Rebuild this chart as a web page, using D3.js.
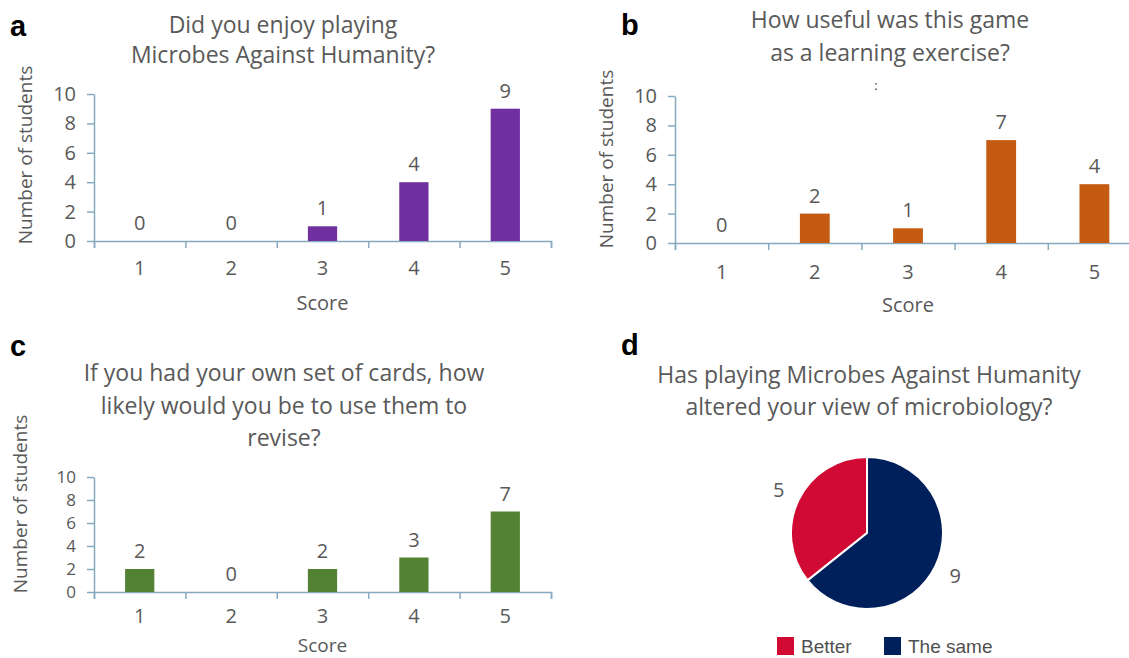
<!DOCTYPE html>
<html>
<head>
<meta charset="utf-8">
<script src="https://cdn.jsdelivr.net/npm/d3@7"></script>
<style>
  body { margin: 0; background: #fff; }
  svg { display: block; }
</style>
</head>
<body>
<div id="place"></div>
<script>
(function() {

	// survey answers
	const scores = ["1", "2", "3", "4", "5"];
	const enjoyCounts = [0, 0, 1, 4, 9];
	const usefulCounts = [0, 2, 1, 7, 4];
	const reviseCounts = [2, 0, 2, 3, 7];
	const yTicks = [0, 2, 4, 6, 8, 10];
	const viewLabels = ["Better", "The same"];
	const viewCounts = [5, 9];

	const width = 1129, height = 658;
	const grey = "#595959",
		  axisColor = "#86a9bf",
		  font = "'Open Sans', Lato, sans-serif";

	let svg = d3.select("#place").append("svg")
		.attr('width', width)
		.attr('height', height)

	function panelLetter(txt, x, y) {
		svg.append('text')
			.attr('x', x).attr('y', y)
			.style('font-family', "'Liberation Sans', Arial, sans-serif")
			.style('font-weight', 'bold')
			.style('font-size', '29px')
			.style('fill', '#000')
			.text(txt)
	}

	function title(lines, cx, ys) {
		svg.append('g').selectAll('text')
			.data(lines)
		  .enter().append('text')
			.attr('x', cx)
			.attr('y', (d, i) => ys[i])
			.attr('text-anchor', 'middle')
			.style('font-family', font)
			.style('font-size', '23px')
			.style('fill', grey)
			.text(d => d)
	}

	function barChart(p) {
		let g = svg.append('g')

		let x = d3.scaleBand()
			.domain(scores)
			.range([p.x0, p.x1])
			.paddingInner(0.68)
			.paddingOuter(0.34)

		let y = d3.scaleLinear()
			.domain([0, 10])
			.range([p.yBottom, p.yTop])

		// boundary ticks under the axis
		let edges = d3.scaleLinear().domain([0, scores.length]).range([p.x0, p.x1])
		let xEdge = g.append('g')
			.attr('transform', 'translate(0,' + p.yBottom + ')')
			.call(d3.axisBottom(edges).ticks(scores.length).tickSize(7).tickFormat(""))
		xEdge.selectAll('path, line').attr('stroke', axisColor).attr('stroke-width', 1.5)

		let xLab = g.append('g')
			.attr('transform', 'translate(0,' + p.yBottom + ')')
			.call(d3.axisBottom(x).tickSize(0).tickPadding(p.xPad))
		xLab.select('.domain').remove()
		xLab.selectAll('text')
			.style('font-family', font).style('font-size', '20px').style('fill', grey)

		let yAx = g.append('g')
			.attr('transform', 'translate(' + p.x0 + ',0)')
			.call(d3.axisLeft(y).tickValues(yTicks).tickSize(7).tickPadding(11).tickSizeOuter(0))
		yAx.selectAll('path, line').attr('stroke', axisColor).attr('stroke-width', 1.5)
		yAx.selectAll('text')
			.style('font-family', font).style('font-size', p.yTickSize).style('fill', grey)

		g.append('g').selectAll('rect')
			.data(p.values)
		  .enter().append('rect')
			.attr('x', (d, i) => x(scores[i]))
			.attr('y', d => y(d))
			.attr('width', x.bandwidth())
			.attr('height', d => y(0) - y(d))
			.style('fill', p.color)

		g.append('g').selectAll('text')
			.data(p.values)
		  .enter().append('text')
			.attr('x', (d, i) => x(scores[i]) + x.bandwidth() / 2)
			.attr('y', d => y(d) - 11)
			.attr('text-anchor', 'middle')
			.style('font-family', font).style('font-size', '20px').style('fill', grey)
			.text(d => d)

		g.append('text')
			.attr('transform', 'translate(' + p.yLabelX + ',' + p.yLabelY + ') rotate(-90)')
			.attr('text-anchor', 'middle')
			.attr('dy', '0.35em')
			.style('font-family', font).style('font-size', '19px').style('fill', grey)
			.text("Number of students")

		g.append('text')
			.attr('x', (p.x0 + p.x1) / 2)
			.attr('y', p.scoreY)
			.attr('text-anchor', 'middle')
			.style('font-family', font).style('font-size', p.scoreSize).style('fill', grey)
			.text("Score")
	}

	// a
	panelLetter("a", 10, 36)
	title(["Did you enjoy playing", "Microbes Against Humanity?"], 283, [33, 63])
	barChart({ x0: 94, x1: 551, yTop: 94, yBottom: 241, values: enjoyCounts, color: "#7030a0",
		xPad: 20, yTickSize: '20px', yLabelX: 25, yLabelY: 155, scoreY: 310, scoreSize: '20px' })

	// b
	panelLetter("b", 621, 35)
	title(["How useful was this game", "as a learning exercise?"], 890, [28, 61])
	svg.append('text')
		.attr('x', 876).attr('y', 90)
		.attr('text-anchor', 'middle')
		.style('font-family', font).style('font-size', '13px').style('fill', '#444')
		.text(":")
	barChart({ x0: 675, x1: 1141, yTop: 96, yBottom: 243, values: usefulCounts, color: "#c55a11",
		xPad: 22, yTickSize: '20px', yLabelX: 606, yLabelY: 159, scoreY: 312, scoreSize: '20px' })

	// c
	panelLetter("c", 10, 356)
	title(["If you had your own set of cards, how", "likely would you be to use them to", "revise?"], 284, [381, 414, 446])
	barChart({ x0: 94, x1: 551, yTop: 477, yBottom: 592, values: reviseCounts, color: "#548235",
		xPad: 17, yTickSize: '17px', yLabelX: 20, yLabelY: 504, scoreY: 652, scoreSize: '19px' })

	// d
	panelLetter("d", 621, 355)
	title(["Has playing Microbes Against Humanity", "altered your view of microbiology?"], 869, [383, 415])

	const pieColors = ["#d00a32", "#00205b"]
	const r = 76, cx = 867, cy = 533
	const startA = -2 * Math.PI * viewCounts[0] / d3.sum(viewCounts)

	let pie = d3.pie().sort(null).startAngle(startA).endAngle(startA + 2 * Math.PI)
	let arcs = pie(viewCounts)
	let arc = d3.arc().innerRadius(0).outerRadius(r)

	let pg = svg.append('g').attr('transform', 'translate(' + cx + ',' + cy + ')')
	pg.selectAll('path')
		.data(arcs)
	  .enter().append('path')
		.attr('d', arc)
		.style('fill', (d, i) => pieColors[i])
		.style('stroke', '#fff')
		.style('stroke-width', 2)

	pg.selectAll('text')
		.data(arcs)
	  .enter().append('text')
		.attr('transform', d => {
			let a = (d.startAngle + d.endAngle) / 2
			return 'translate(' + (Math.sin(a) * (r + 22)) + ',' + (-Math.cos(a) * (r + 22)) + ')'
		})
		.attr('text-anchor', 'middle')
		.attr('dy', '0.35em')
		.style('font-family', font).style('font-size', '20px').style('fill', grey)
		.text(d => d.data)

	let lg = svg.append('g').selectAll('g')
		.data(viewLabels)
	  .enter().append('g')
		.attr('transform', (d, i) => 'translate(' + [777, 884][i] + ',637)')
	lg.append('rect')
		.attr('width', 17).attr('height', 18)
		.style('fill', (d, i) => pieColors[i])
	lg.append('text')
		.attr('x', 24).attr('y', 9)
		.attr('dy', '0.36em')
		.style('font-family', "'Liberation Sans', Arial, sans-serif")
		.style('font-size', '19px').style('fill', '#505050')
		.text(d => d)

})()
</script>
</body>
</html>
